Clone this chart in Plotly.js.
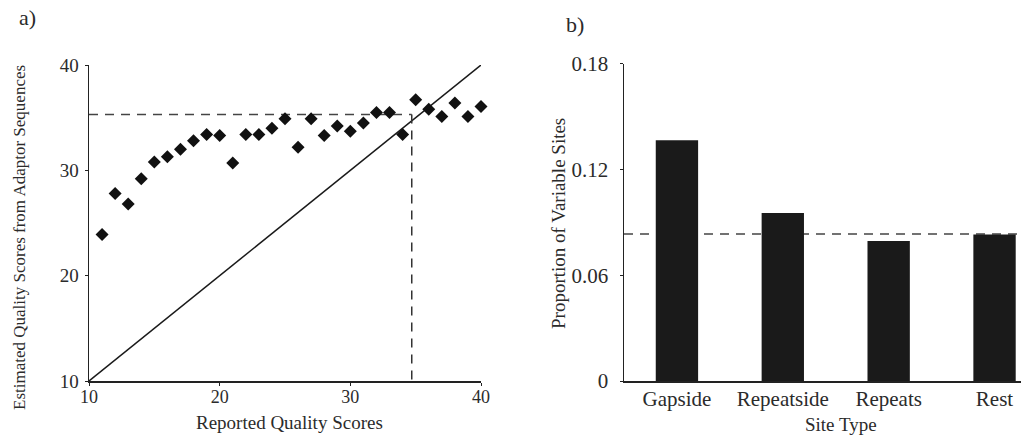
<!DOCTYPE html>
<html>
<head>
<meta charset="utf-8">
<script src="https://cdn.plot.ly/plotly-3.0.1.min.js"></script>
<style>html,body{margin:0;padding:0;background:#fff;}#chart{width:1021px;height:447px;}</style>
</head>
<body>
<div id="chart"></div>
<script>
// Panel a data
const reportedQ = [11,12,13,14,15,16,17,18,19,20,21,22,23,24,25,26,27,28,29,30,31,32,33,34,35,36,37,38,39,40];
const estimatedQ = [23.9,27.8,26.8,29.2,30.8,31.3,32.0,32.8,33.4,33.3,30.7,33.4,33.4,34.0,34.9,32.2,34.9,33.3,34.2,33.7,34.5,35.5,35.5,33.4,36.7,35.8,35.1,36.4,35.1,36.05];
const identityX = [10, 40];
const identityY = [10, 40];
const thresholdX = 34.7;
const thresholdY = 35.3;
const axisTicksA = [10, 20, 30, 40];

// Panel b data
const siteTypes = ["Gapside", "Repeatside", "Repeats", "Rest"];
const proportions = [0.1365, 0.0952, 0.0793, 0.0831];
const overallProportion = 0.0833;
const axisTicksB = [0, 0.06, 0.12, 0.18];
const axisTickLabelsB = ["0", "0.06", "0.12", "0.18"];

const txt = '#2b2b2b';
const serif = 'Liberation Serif, DejaVu Serif, serif';

const traces = [
  {x: identityX, y: identityY, type: 'scatter', mode: 'lines', line: {color: '#1a1a1a', width: 1.5}, xaxis: 'x', yaxis: 'y', hoverinfo: 'skip'},
  {x: [identityX[0], thresholdX], y: [thresholdY, thresholdY], type: 'scatter', mode: 'lines', line: {color: '#444', width: 1.5, dash: '9px,7px'}, xaxis: 'x', yaxis: 'y'},
  {x: [thresholdX, thresholdX], y: [thresholdY, identityY[0]], type: 'scatter', mode: 'lines', line: {color: '#333', width: 1.5, dash: '9px,7px'}, xaxis: 'x', yaxis: 'y'},
  {x: reportedQ, y: estimatedQ, type: 'scatter', mode: 'markers', marker: {symbol: 'diamond', size: 10, color: '#111'}, xaxis: 'x', yaxis: 'y', cliponaxis: false},
  {x: siteTypes, y: proportions, type: 'bar', marker: {color: '#1a1a1a'}, width: 0.4, xaxis: 'x2', yaxis: 'y2'},
];

const layout = {
  width: 1021, height: 447,
  margin: {l: 0, r: 0, t: 0, b: 0},
  paper_bgcolor: '#fff', plot_bgcolor: '#fff',
  showlegend: false,
  font: {family: serif, color: txt, size: 17},
  xaxis: {
    domain: [89/1021, 481/1021], range: [10, 40], tickvals: axisTicksA,
    showgrid: false, zeroline: false, showline: true, linecolor: '#222', linewidth: 1.5,
    ticks: 'outside', ticklen: 3, tickcolor: '#222', tickfont: {size: 18, family: serif, color: txt},
    ticklabelstandoff: -4,
    anchor: 'y'
  },
  yaxis: {
    domain: [66/447, 382/447], range: [10, 40], tickvals: axisTicksA,
    showgrid: false, zeroline: false, showline: true, linecolor: '#222', linewidth: 1.5,
    ticks: 'outside', ticklen: 3, tickcolor: '#222', tickfont: {size: 19, family: serif, color: txt},
    ticklabelstandoff: 2,
    anchor: 'x'
  },
  xaxis2: {
    domain: [624/1021, 1], range: [-0.5, 3.25], type: 'category',
    showgrid: false, zeroline: false, showline: true, linecolor: '#222', linewidth: 1.5,
    ticks: '', tickfont: {size: 21, family: serif, color: txt},
    ticklabelstandoff: -2,
    anchor: 'y2'
  },
  yaxis2: {
    domain: [66/447, 383.5/447], range: [0, 0.18], tickvals: axisTicksB, ticktext: axisTickLabelsB,
    showgrid: false, zeroline: false, showline: true, linecolor: '#222', linewidth: 1.5,
    ticks: 'outside', ticklen: 3, tickcolor: '#222', tickfont: {size: 21, family: serif, color: txt},
    ticklabelstandoff: 7,
    anchor: 'x2'
  },
  shapes: [
    {type: 'line', xref: 'x2 domain', yref: 'y2', x0: 0, x1: 1, y0: overallProportion, y1: overallProportion,
     line: {color: '#444', width: 1.5, dash: '9px,7px'}, layer: 'below'}
  ],
  annotations: [
    {text: 'a)', xref: 'paper', yref: 'paper', x: 17/1021, y: 1 - 18/447, xanchor: 'left', yanchor: 'middle', showarrow: false, font: {size: 22, family: serif, color: txt}},
    {text: 'b)', xref: 'paper', yref: 'paper', x: 564/1021, y: 1 - 25/447, xanchor: 'left', yanchor: 'middle', showarrow: false, font: {size: 22, family: serif, color: txt}},
    {text: 'Reported Quality Scores', xref: 'paper', yref: 'paper', x: 289/1021, y: 1 - 422/447, xanchor: 'center', yanchor: 'middle', showarrow: false, font: {size: 19, family: serif, color: txt}},
    {text: 'Estimated Quality Scores from Adaptor Sequences', xref: 'paper', yref: 'paper', x: 19/1021, y: 1 - 238/447, xanchor: 'center', yanchor: 'middle', textangle: -90, showarrow: false, font: {size: 17, family: serif, color: txt}},
    {text: 'Proportion of Variable Sites', xref: 'paper', yref: 'paper', x: 558/1021, y: 1 - 224/447, xanchor: 'center', yanchor: 'middle', textangle: -90, showarrow: false, font: {size: 19, family: serif, color: txt}},
    {text: 'Site Type', xref: 'paper', yref: 'paper', x: 841/1021, y: 1 - 424/447, xanchor: 'center', yanchor: 'middle', showarrow: false, font: {size: 19, family: serif, color: txt}}
  ]
};

Plotly.newPlot('chart', traces, layout, {displayModeBar: false, staticPlot: true});
</script>
</body>
</html>
